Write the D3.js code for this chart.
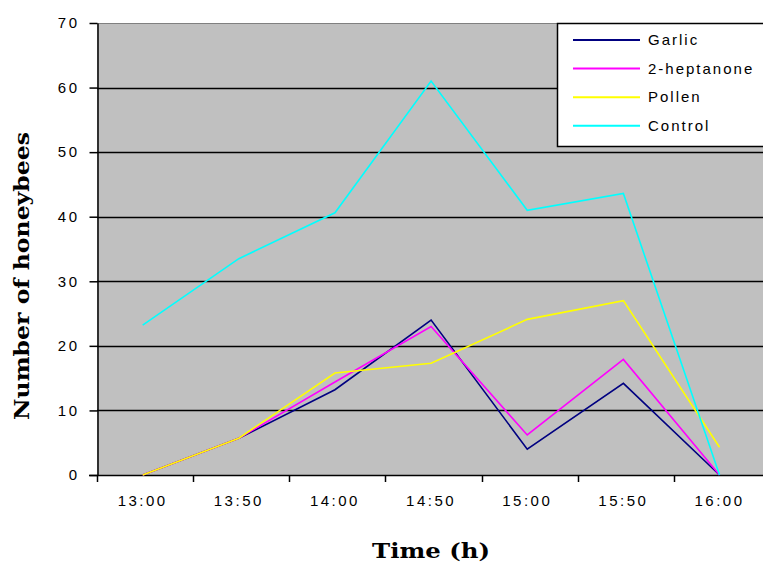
<!DOCTYPE html>
<html>
<head>
<meta charset="utf-8">
<script src="https://cdn.jsdelivr.net/npm/d3@7/dist/d3.min.js"></script>
<style>
  html, body { margin: 0; padding: 0; background: #ffffff; }
  svg { display: block; }
</style>
</head>
<body>
<svg id="chart" width="763" height="566"></svg>
<script>
// ---- data ----
const categories = ["13:00", "13:50", "14:00", "14:50", "15:00", "15:50", "16:00"];
const garlic     = [0, 5.7, 13.2, 24, 4.0, 14.2, 0];
const heptanone  = [0, 5.7, 14.4, 23, 6.2, 17.9, 0];
const pollen     = [0, 5.7, 15.8, 17.3, 24.1, 27, 4.3];
const control    = [23.2, 33.5, 40.6, 61, 41, 43.6, 0];
const seriesNames  = ["Garlic", "2-heptanone", "Pollen", "Control"];
const seriesColors = ["#000080", "#ff00ff", "#ffff00", "#00ffff"];
const yTicks = [0, 10, 20, 30, 40, 50, 60, 70];
const series = [garlic, heptanone, pollen, control];

// ---- layout ----
const svg = d3.select("#chart");
const pLeft = 97, pTop = 23, pBottom = 475, pRight = 770;

const x = d3.scaleBand().domain(categories).range([pLeft, pRight]).paddingInner(0).paddingOuter(0);
const y = d3.scaleLinear().domain([0, 70]).range([pBottom, pTop]);
const px = c => x(c) + x.bandwidth() * 0.475;

// plot area
svg.append("rect")
  .attr("x", pLeft).attr("y", pTop)
  .attr("width", pRight - pLeft).attr("height", pBottom - pTop)
  .attr("fill", "#c0c0c0");
svg.append("line")
  .attr("x1", pLeft).attr("x2", pRight).attr("y1", pTop + 0.5).attr("y2", pTop + 0.5)
  .attr("stroke", "#808080").attr("stroke-width", 1);

// gridlines
svg.append("g").selectAll("line")
  .data(yTicks.filter(t => t > 0 && t < 70))
  .join("line")
  .attr("x1", pLeft).attr("x2", pRight)
  .attr("y1", d => Math.round(y(d)) + 0.5).attr("y2", d => Math.round(y(d)) + 0.5)
  .attr("stroke", "#000").attr("stroke-width", 1.5);

// y axis
const yAxis = svg.append("g")
  .attr("transform", `translate(${pLeft + 0.5},0)`)
  .call(d3.axisLeft(y).tickValues(yTicks).tickSize(8).tickPadding(10).tickSizeOuter(0));
yAxis.select(".domain").attr("stroke", "#000").attr("stroke-width", 1.5);
yAxis.selectAll(".tick line").attr("stroke", "#000").attr("stroke-width", 1.5);
yAxis.selectAll(".tick text")
  .attr("font-family", "'Liberation Sans', Arial, sans-serif")
  .attr("font-size", 15).attr("letter-spacing", "2.5px")
  .attr("fill", "#000");

// x axis
svg.append("line")
  .attr("x1", pLeft - 8).attr("x2", pRight).attr("y1", pBottom + 0.5).attr("y2", pBottom + 0.5)
  .attr("stroke", "#000").attr("stroke-width", 1.5);
svg.append("g").selectAll("line")
  .data(categories)
  .join("line")
  .attr("x1", d => Math.round(x(d)) + 0.5).attr("x2", d => Math.round(x(d)) + 0.5)
  .attr("y1", pBottom).attr("y2", pBottom + 7)
  .attr("stroke", "#000").attr("stroke-width", 1.5);
svg.append("g").selectAll("text")
  .data(categories)
  .join("text")
  .attr("x", d => px(d))
  .attr("y", 506)
  .attr("text-anchor", "middle")
  .attr("font-family", "'Liberation Sans', Arial, sans-serif")
  .attr("font-size", 15).attr("letter-spacing", "2.5px")
  .attr("fill", "#000")
  .text(d => d);

// lines
const line = d3.line().x((d, i) => px(categories[i])).y(d => y(d));
series.forEach((s, k) => {
  svg.append("path")
    .datum(s)
    .attr("d", line)
    .attr("fill", "none")
    .attr("stroke", seriesColors[k])
    .attr("stroke-width", 1.6)
    .attr("stroke-linejoin", "miter");
});

// legend
const lg = svg.append("g");
lg.append("rect")
  .attr("x", 557.5).attr("y", 23.5).attr("width", 230).attr("height", 123)
  .attr("fill", "#ffffff").attr("stroke", "#000").attr("stroke-width", 1.5);
seriesNames.forEach((n, k) => {
  const yy = 40 + k * 28.6;
  lg.append("line")
    .attr("x1", 573).attr("x2", 640).attr("y1", yy).attr("y2", yy)
    .attr("stroke", seriesColors[k]).attr("stroke-width", 2);
  lg.append("text")
    .attr("x", 648).attr("y", yy + 5)
    .attr("font-family", "'Liberation Sans', Arial, sans-serif")
    .attr("font-size", 15).attr("letter-spacing", "2px")
    .attr("fill", "#000")
    .text(n);
});

// axis titles
svg.append("text")
  .attr("transform", "translate(29,276) rotate(-90)")
  .attr("text-anchor", "middle")
  .attr("font-family", "'DejaVu Serif', 'Liberation Serif', serif")
  .attr("font-weight", "bold").attr("font-size", 21)
  .attr("textLength", 288).attr("lengthAdjust", "spacingAndGlyphs")
  .attr("fill", "#000")
  .text("Number of honeybees");
svg.append("text")
  .attr("x", 431).attr("y", 558)
  .attr("text-anchor", "middle")
  .attr("font-family", "'DejaVu Serif', 'Liberation Serif', serif")
  .attr("font-weight", "bold").attr("font-size", 21)
  .attr("textLength", 118).attr("lengthAdjust", "spacingAndGlyphs")
  .attr("fill", "#000")
  .text("Time (h)");
</script>
</body>
</html>
